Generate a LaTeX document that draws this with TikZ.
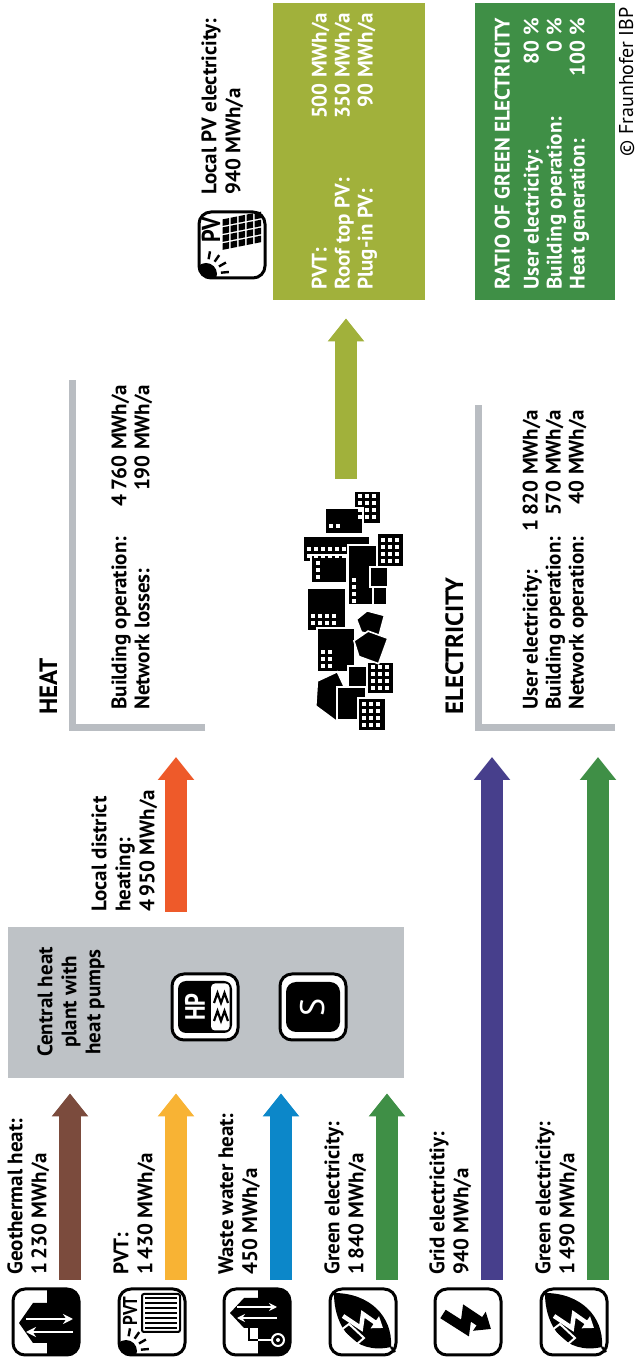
\documentclass[tikz,border=0pt]{standalone}
\usepackage{fontspec}
\setmainfont{PT Sans}
\usetikzlibrary{arrows.meta,positioning}

\definecolor{geobrown}{HTML}{7B4B3D}
\definecolor{pvtyellow}{HTML}{F8B334}
\definecolor{waterblue}{HTML}{0C87C9}
\definecolor{greenel}{HTML}{3F8F46}
\definecolor{gridpurple}{HTML}{473F8C}
\definecolor{districtred}{HTML}{EE5A2A}
\definecolor{pvgreen}{HTML}{A1B13B}
\definecolor{plantgray}{HTML}{BEC2C6}
\definecolor{bargray}{HTML}{B9BDC2}

\tikzset{
  all/.style  = {inner sep=0pt},
  lbl/.style  = {all, font=\bfseries\fontsize{10.5}{12}\selectfont, align=left, anchor=north west},
  vals/.style = {all, font=\bfseries\fontsize{10.5}{11.5}\selectfont, anchor=north west},
  boxvals/.style = {vals, text=white},
  headline/.style = {all, font=\bfseries\fontsize{12.5}{14}\selectfont, anchor=base west},
  iconbox/.style = {all, draw, line width=1.5pt, rounded corners=6pt, fill=white, minimum size=33pt},
  plantbox/.style = {all, fill=plantgray},
  greenbox/.style = {all, minimum width=148.5pt},
  flow/.style = {line width=11pt, -{Triangle[length=11.5pt,width=17.5pt]}},
  bar/.style  = {draw=bargray, line width=3.5pt, line join=miter},
  house/.style = {fill=black, draw=white, line width=0.8pt},
  % icon glyphs, drawn inside an iconbox
  geoicon/.pic = {
    \begin{scope}
      \clip[rounded corners=5pt] (-32,-32) rectangle (32,32);
      \fill (-32,-32) rectangle (32,-1);
    \end{scope}
    \fill (-21,-1) -- (-21,13) -- (-1,27) -- (19,13) -- (19,-1) -- cycle;
    \draw[white, line width=1.3pt, -{Stealth[length=5pt,width=5pt]}] (-10,-27) -- (-10,20);
    \draw[white, line width=1.3pt, -{Stealth[length=5pt,width=5pt]}] (3,20) -- (3,-27);
  },
  wasteicon/.pic = {
    \begin{scope}
      \clip[rounded corners=5pt] (-32,-32) rectangle (32,32);
      \fill (-32,-32) rectangle (32,-1);
    \end{scope}
    \fill (-6,-1) -- (-6,13) -- (9,27) -- (24,13) -- (24,-1) -- cycle;
    \draw[white, line width=1.2pt, -{Stealth[length=4pt,width=4pt]}] (4,-20) -- (4,20);
    \draw[white, line width=1.2pt, -{Stealth[length=4pt,width=4pt]}] (15,20) -- (15,-20);
    \draw[line width=1.2pt] (-6,8) -- (-18,8) -- (-18,-1);
    \draw[white, line width=1.2pt] (-18,-1) -- (-18,-14);
    \draw[white, fill=black, line width=1pt] (-18,-21) circle (6);
    \fill[white] (-18,-21) circle (2);
  },
  pvicon/.pic = {
    \begin{scope}
      \clip[rounded corners=5pt] (-32,-32) rectangle (32,32);
      \fill (-29,26) circle (11);
    \end{scope}
    \foreach \a in {-85,-60,-35,-10}
      \draw[line width=1.2pt, shift={(-29,26)}] (\a:15) -- (\a:23);
    \node[all, font=\bfseries\fontsize{13}{13}\selectfont, xscale=0.85] at (15,21) {PV};
    \foreach \i in {0,...,3}
      \foreach \j in {0,...,4}
        \fill[xslant=-0.2] ({-3+\i*8},{-29+\j*8}) rectangle +(6.5,6.5);
  },
  pvticon/.pic = {
    \begin{scope}
      \clip[rounded corners=5pt] (-32,-32) rectangle (32,32);
      \fill (-29,26) circle (11);
    \end{scope}
    \foreach \a in {-85,-60,-35,-10}
      \draw[line width=1.2pt, shift={(-29,26)}] (\a:15) -- (\a:23);
    \node[all, font=\bfseries\fontsize{10}{10}\selectfont, xscale=0.85] at (11,22) {PVT};
    \draw[line width=1pt, rounded corners=1pt] (-10,-28) rectangle (28,10);
    \foreach \i in {-6,-1,...,24}
      \draw[line width=0.9pt] (\i,-25) -- (\i,7);
  },
  leaficon/.pic = {
    \fill (-25,-28) .. controls (-33,8) and (-6,29) .. (29,29)
      .. controls (29,-6) and (6,-30) .. (-25,-28) -- cycle;
    \draw[line width=1.2pt] (-25,-28) -- (-30,-32);
    \draw[white, line width=1pt] (-22,6) -- (-8,22) -- (-2,14) -- (-16,-1) -- cycle;
    \draw[white, line width=2.2pt, line join=miter, -{Triangle[length=5pt,width=7pt]}]
      (6,20) -- (-6,2) -- (8,0) -- (-6,-20);
  },
  gridicon/.pic = {
    \draw[line width=5pt, line join=miter, -{Triangle[length=7pt,width=11pt]}]
      (8,25) -- (-6,3) -- (9,1) -- (-7,-23);
  },
  hpicon/.pic = {
    \fill[rounded corners=4pt] (-26,-27) rectangle (26,27);
    \fill[white, rounded corners=2pt] (-23.5,-24.5) rectangle (23.5,-6);
    \node[all, text=white, font=\bfseries\fontsize{14}{14}\selectfont, xscale=0.8] at (0,10) {HP};
    \foreach \x in {-9,9}
      \draw[line width=1.1pt] ({\x-5},-9) -- ({\x+5},-12.5) -- ({\x-5},-16) -- ({\x+5},-19.5) -- ({\x-5},-23);
  },
  storeicon/.pic = {
    \fill[rounded corners=5pt] (-25,-27) rectangle (25,27);
    \node[all, text=white, font=\fontsize{17}{17}\selectfont] at (0,0) {S};
  }
}

\begin{document}
\begin{tikzpicture}[x=0.5pt, y=0.5pt]
\useasboundingbox (0,0) rectangle (640,1362);
\fill[white] (0,0) rectangle (640,1362);
% the flow chart is laid out lying on its side
\begin{scope}[shift={(640,0)}, rotate=90, transform shape]

% central heat plant
\node[plantbox, minimum width=75.5pt, minimum height=198pt] (plant) at (359.5,434) {};
\node[lbl, align=center, anchor=north] (plantname) at (360,603) {Central heat\\plant with\\heat pumps};
\node[iconbox] (hp) at (355,435) {};
\pic at (hp) {hpicon};
\node[iconbox] (store) at (355,327) {};
\pic at (store) {storeicon};

% sources, one row each
\node[iconbox] (geo) at (40,594) {};
\pic at (geo) {geoicon};
\node[lbl] (geolbl) at (87,633) {Geothermal heat:\\1\,230 MWh/a};
\node[iconbox] (pvt) at (40,488) {};
\pic at (pvt) {pvticon};
\node[lbl] (pvtlbl) at (87,527) {PVT:\\1\,430 MWh/a};
\node[iconbox] (waste) at (40,383) {};
\pic at (waste) {wasteicon};
\node[lbl] (wastelbl) at (87,422) {Waste water heat:\\450 MWh/a};
\node[iconbox] (green1) at (40,277) {};
\pic at (green1) {leaficon};
\node[lbl] (green1lbl) at (87,316) {Green electricity:\\1\,840 MWh/a};
\node[iconbox] (grid) at (40,172) {};
\pic at (grid) {gridicon};
\node[lbl] (gridlbl) at (87,211) {Grid electricitiy:\\940 MWh/a};
\node[iconbox] (green2) at (40,66) {};
\pic at (green2) {leaficon};
\node[lbl] (green2lbl) at (87,105) {Green electricity:\\1\,490 MWh/a};

\coordinate (geo-out) at (82,570);
\coordinate (pvt-out) at (82,464);
\coordinate (waste-out) at (82,359);
\coordinate (green1-out) at (82,253);
\coordinate (grid-out) at (82,148);
\coordinate (green2-out) at (82,42);

\draw[flow, draw=geobrown, shorten >=7.5pt] (geo-out) -- (geo-out -| plant.west);
\draw[flow, draw=pvtyellow, shorten >=7.5pt] (pvt-out) -- (pvt-out -| plant.west);
\draw[flow, draw=waterblue, shorten >=7.5pt] (waste-out) -- (waste-out -| plant.west);
\draw[flow, draw=greenel, shorten >=7.5pt] (green1-out) -- (green1-out -| plant.west);

% heat
\coordinate (heat-c) at (634,568);
\draw[bar] (634,435) -- (heat-c) -- (982,568);
\node[headline] (heat) at (647,583) {HEAT};
\node[vals] (heattxt) at (652,530) {%
  \begin{tabular*}{162.5pt}{@{}l@{\extracolsep{\fill}}r@{}}
  Building operation: & 4\,760 MWh/a\\
  Network losses: & 190 MWh/a
  \end{tabular*}};

\coordinate (district-out) at (450,464);
\node[lbl] (districtlbl) at (450,549) {Local district\\heating:\\4\,950 MWh/a};
\draw[flow, draw=districtred, shorten >=14.5pt] (district-out) -- (district-out -| heat-c);

% electricity
\coordinate (elec-c) at (634,162);
\draw[bar] (634,25) -- (elec-c) -- (957,162);
\node[headline] (elec) at (647,177) {ELECTRICITY};
\node[vals] (electxt) at (652,119) {%
  \begin{tabular*}{150pt}{@{}l@{\extracolsep{\fill}}r@{}}
  User electricity: & 1\,820 MWh/a\\
  Building operation: & 570 MWh/a\\
  Network operation: & 40 MWh/a
  \end{tabular*}};

\draw[flow, draw=gridpurple, shorten >=14.5pt] (grid-out) -- (grid-out -| elec-c);
\draw[flow, draw=greenel, shorten >=14.5pt] (green2-out) -- (green2-out -| elec-c);

% district buildings
\foreach \xa/\ya/\xb/\yb in {838/259/871/286, 828/277/854/315, 800/270/826/337,
    795/236/829/263, 779/293/807/329, 757/263/817/292, 775/252/795/270,
    757/253/775/267, 731/294/774/333, 690/285/734/323, 671/273/696/292,
    668/246/700/273}
  \filldraw[house] (\xa,\ya) rectangle (\xb,\yb);
\filldraw[house, rotate around={-15:(739,270)}] (728,258) -- (750,258) -- (750,276) -- (739,284) -- (728,276) -- cycle;
\filldraw[house, rotate around={-20:(716,272)}] (703,256) -- (730,256) -- (730,277) -- (716,287) -- (703,277) -- cycle;
\filldraw[house, rotate around={25:(664,307)}] (642,292) -- (686,292) -- (686,314) -- (664,326) -- (642,314) -- cycle;
\filldraw[house] (642,274) rectangle (675,303);
\filldraw[house] (631,254) rectangle (664,282);
\foreach \xa/\ya/\nc/\nr in {843/282/4/3, 799/259/4/3, 672/269/4/3, 635/278/4/3,
    804/333/2/6, 737/329/2/4, 694/319/3/2, 783/324/3/1, 834/311/1/2, 759/288/4/1}
  \foreach \i in {1,...,\nc}
    \foreach \j in {1,...,\nr}
      \fill[white] ({\xa+(\i-1)*7},{\ya-(\j-1)*7}) rectangle +(4,-4);
\coordinate (city-out) at (883,294);

% local pv
\node[greenbox, fill=pvgreen, minimum height=76pt] (pvbox) at (1210.5,291) {};
\node[boxvals] (pvtxt) at (1072,330) {%
  \begin{tabular*}{138.5pt}{@{}l@{\extracolsep{\fill}}r@{}}
  PVT: & 500 MWh/a\\
  Roof top PV: & 350 MWh/a\\
  Plug-in PV: & 90 MWh/a
  \end{tabular*}};
\draw[flow, draw=pvgreen, shorten >=9pt] (city-out) -- (city-out -| pvbox.west);
\node[iconbox] (pv) at (1117,408) {};
\pic at (pv) {pvicon};
\node[lbl] (pvlbl) at (1167,439) {Local PV electricity:\\940 MWh/a};

% share of green electricity
\node[greenbox, fill=greenel, minimum height=70pt] (ratio) at (1210.5,95) {};
\node[boxvals] (ratiotxt) at (1072,147) {%
  \begin{tabular*}{136pt}{@{}l@{\extracolsep{\fill}}r@{}}
  \multicolumn{2}{@{}l@{}}{RATIO OF GREEN ELECTRICITY}\\[3pt]
  User electricity: & 80 \%\\
  Building operation: & 0 \%\\
  Heat generation: & 100 \%
  \end{tabular*}};

\node[all, font=\fontsize{10}{12}\selectfont, anchor=base east] (credit) at (1355,7) {\textcopyright\ Fraunhofer IBP};

\end{scope}
\end{tikzpicture}
\end{document}
